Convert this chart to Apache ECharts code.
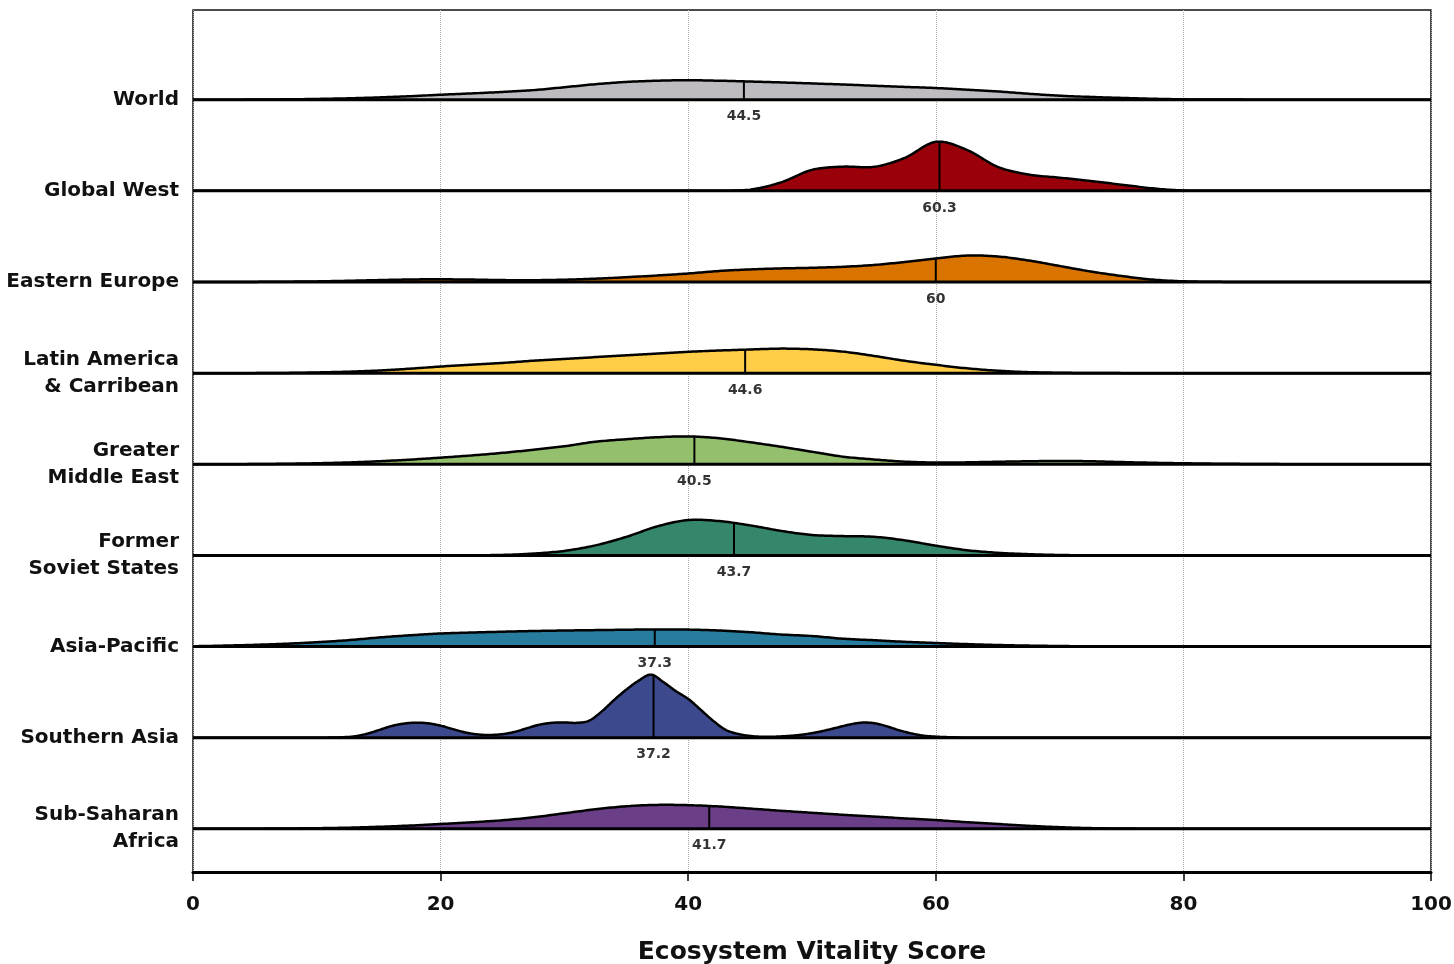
<!DOCTYPE html>
<html><head><meta charset="utf-8">
<script src="https://cdn.jsdelivr.net/npm/echarts@6/dist/echarts.min.js"></script>
<style>html,body{margin:0;padding:0;background:#fff}#c{width:1454px;height:964px}</style>
</head><body><div id="c"></div>
<script>
// Regions, top to bottom
const regionNames = ['World', 'Global West', 'Eastern Europe', 'Latin America\n& Carribean', 'Greater\nMiddle East', 'Former\nSoviet States', 'Asia-Pacific', 'Southern Asia', 'Sub-Saharan\nAfrica'];
const regionColors = ['#BEBCC1', '#9A000A', '#DA7400', '#FFCD48', '#94BF6C', '#35876B', '#287C9E', '#3C4A8D', '#6A3F87'];
const medianScores = [44.5, 60.3, 60, 44.6, 40.5, 43.7, 37.3, 37.2, 41.7];
const medianLabels = ['44.5', '60.3', '60', '44.6', '40.5', '43.7', '37.3', '37.2', '41.7'];
// density (relative height) at each median
const medianDensity = [18.3, 49, 23.4, 23.6, 27.8, 32.5, 17, 62.5, 22.7];

// Shared score grid (step 2.5)
const scoreGrid = [0,2.5,5,7.5,10,12.5,15,17.5,20,22.5,25,27.5,30,32.5,35,37.5,40,42.5,45,47.5,50,52.5,55,57.5,60,62.5,65,67.5,70,72.5,75,77.5,80,82.5,85,87.5,90,92.5,95,97.5,100];
const densWorld = [0,0,0.2,0.4,0.8,1.4,2.3,3.5,5,6.3,7.8,9.6,12.5,15.5,17.8,19,19.5,19,18.2,17.3,16.3,15.2,14,12.8,11.7,10,8.3,6,4,2.8,1.8,1,0.4,0.2,0.1,0,0,0,0,0,0];
const densGlobalWest = [0,0,0,0,0,0,0,0,0,0,0,0,0,0,0,0,0,0.1,1.2,8.5,21,24.2,24,33,49,41,24,16.3,13.2,9.8,6.2,2.5,0.3,0,0,0,0,0,0,0,0];
const densEasternEurope = [0,0,0.1,0.3,0.6,1.2,1.9,2.5,2.7,2.4,1.9,1.8,2.3,3.3,4.8,6.5,8.5,11,12.6,13.6,14.2,15.2,17,20,23.4,26.4,25.5,21.5,16,10.5,6,2.4,0.7,0.2,0,0,0,0,0,0,0];
const densLatinAmerica = [0,0,0,0.2,0.7,1.4,2.6,4.4,6.6,8.4,10.2,12.4,14.2,16,17.8,19.6,21.3,22.6,23.6,24.5,23.8,21.5,17.2,12.3,8.3,4.8,2.4,1,0.4,0.1,0,0,0,0,0,0,0,0,0,0,0];
const densMiddleEast = [0,0,0.2,0.5,1,1.8,3,4.6,6.6,8.8,11.4,14.5,18,22.5,25,27,27.8,26,22,17.5,12.5,7.6,4.8,2.6,1.7,1.9,2.5,3,3.3,3,2.2,1.5,1,0.6,0.35,0.15,0,0,0,0,0];
const densSovietStates = [0,0,0,0,0,0,0,0,0,0.1,0.5,1.8,4.5,10,18.5,29,35.3,34.3,30,24.5,20.4,19.3,18.6,15,9.7,5.2,2.6,1.2,0.4,0.1,0,0,0,0,0,0,0,0,0,0,0];
const densAsiaPacific = [0.3,0.9,1.7,2.8,4.3,6.3,9,11.2,13,14,14.8,15.5,16,16.4,16.8,17.1,16.9,16,14.3,12,10.5,7.8,6.3,4.7,3.5,2.4,1.5,0.9,0.5,0.2,0.1,0,0,0,0,0,0,0,0,0,0];
const densSubSaharan = [0,0,0.1,0.3,0.6,1.1,2,3.2,4.8,6.5,8.5,11.5,15.5,19.5,22.5,23.9,23.6,22.3,20.2,18,16,14,12.2,10.4,8.7,6.6,4.8,3,1.6,0.7,0.25,0.1,0,0,0,0,0,0,0,0,0];
// Southern Asia is narrow, so read on a finer grid
const southAsiaGrid = [0,10,11,12,13,14,15,16,17,18,19,20,21,22,23,24,25,26,27,28,29,30,31,32,33,34,35,36,37,38,39,40,41,42,43,44,45,46,47,48,49,50,51,52,53,54,55,56,57,58,59,60,61,62,63,100];
const densSouthernAsia = [0,0,0.1,0.4,1.2,3.7,7.5,11.5,14,15,14.3,12,8.5,5.2,3.2,2.7,3.5,5.8,9.5,13,14.8,15.2,14.8,17,26,37.5,48,57,63,55.5,46.5,38.7,28,17,8,3.8,1.7,0.9,1,1.6,2.7,4.5,7,10,13,15,14.5,11.5,7.5,4.3,2,1,0.5,0.2,0,0];

const xTicks = [0, 20, 40, 60, 80, 100];

const regionGrids = [scoreGrid, scoreGrid, scoreGrid, scoreGrid, scoreGrid, scoreGrid, scoreGrid, southAsiaGrid, scoreGrid];
const regionDens = [densWorld, densGlobalWest, densEasternEurope, densLatinAmerica, densMiddleEast, densSovietStates, densAsiaPacific, densSouthernAsia, densSubSaharan];

const ROW = 91.1;
const N = regionNames.length;
const FONT = 'DejaVu Sans';

// Catmull-Rom rendering of the read points (pixel space), never dipping below the baseline
function splinePixels(pts, baseY) {
  const out = [pts[0]];
  const n = pts.length;
  for (let i = 0; i < n - 1; i++) {
    const p0 = pts[Math.max(i - 1, 0)], p1 = pts[i], p2 = pts[i + 1], p3 = pts[Math.min(i + 2, n - 1)];
    const c1 = [p1[0] + (p2[0] - p0[0]) / 6, Math.min(baseY, p1[1] + (p2[1] - p0[1]) / 6)];
    const c2 = [p2[0] - (p3[0] - p1[0]) / 6, Math.min(baseY, p2[1] - (p3[1] - p1[1]) / 6)];
    const steps = 14;
    for (let s = 1; s <= steps; s++) {
      const t = s / steps, u = 1 - t;
      const a = u * u * u, b = 3 * u * u * t, c = 3 * u * t * t, d = t * t * t;
      out.push([a * p1[0] + b * c1[0] + c * c2[0] + d * p2[0], Math.min(baseY, a * p1[1] + b * c1[1] + c * c2[1] + d * p2[1])]);
    }
  }
  return out;
}

const series = [];
regionNames.forEach((name, r) => {
  const base = (N - 1 - r) * ROW;
  const xs = regionGrids[r], ds = regionDens[r];
  const pts = xs.map((x, k) => [x, base + ds[k]]);
  series.push({
    type: 'custom', name: name, coordinateSystem: 'cartesian2d', silent: true, z: 2,
    data: pts,
    renderItem: (params, api) => {
      if (params.dataIndex !== 0) return null;
      const pix = pts.map(p => api.coord(p));
      const baseY = api.coord([0, base])[1];
      const curve = splinePixels(pix, baseY);
      const poly = curve.concat([[curve[curve.length - 1][0], baseY], [curve[0][0], baseY]]);
      return {
        type: 'group',
        children: [
          { type: 'polygon', shape: { points: poly }, style: { fill: regionColors[r], stroke: null } },
          { type: 'polyline', shape: { points: curve }, style: { fill: null, stroke: '#000', lineWidth: 2.5, lineJoin: 'round' } }
        ]
      };
    }
  });
  series.push({
    type: 'line', symbol: 'none', silent: true, z: 3,
    data: [[medianScores[r], base], [medianScores[r], base + medianDensity[r]]],
    lineStyle: { color: '#000', width: 2 }
  });
  series.push({
    type: 'line', symbol: 'none', silent: true, z: 4,
    data: [[0, base], [100, base]],
    lineStyle: { color: '#000', width: 3 }
  });
  series.push({
    type: 'scatter', symbolSize: 0, silent: true, z: 5,
    data: [[medianScores[r], base]],
    label: { show: true, position: 'bottom', distance: 10, formatter: medianLabels[r],
      fontFamily: FONT, fontWeight: 'bold', fontSize: 14, color: '#000' }
  });
});

const labelValues = regionNames.map((n, r) => (N - 1 - r) * ROW);

const chart = echarts.init(document.getElementById('c'), null, { renderer: 'canvas' });
chart.setOption({
  animation: false,
  backgroundColor: '#fff',
  textStyle: { fontFamily: FONT },
  grid: { left: 193, right: 23, top: 10, bottom: 92, show: true, borderColor: '#111', borderWidth: 1.5,
    containLabel: false, outerBoundsMode: 'none' },
  xAxis: {
    type: 'value', min: 0, max: 100, interval: 20,
    name: 'Ecosystem Vitality Score', nameLocation: 'middle', nameGap: 68,
    nameTextStyle: { fontFamily: FONT, fontWeight: 'bold', fontSize: 25, color: '#111' },
    axisLine: { show: true, onZero: false, lineStyle: { color: '#000', width: 3 } },
    axisTick: { show: true, length: 9, lineStyle: { color: '#000', width: 1.5 } },
    axisLabel: { margin: 23, fontFamily: FONT, fontWeight: 'bold', fontSize: 20, color: '#111',
      formatter: v => xTicks.includes(v) ? String(v) : '' },
    splitLine: { show: true, lineStyle: { color: '#aaa', width: 1, type: 'dotted' } }
  },
  yAxis: {
    type: 'value', min: -43.2, max: (N - 1) * ROW + 89.7,
    axisLine: { show: false }, axisTick: { show: false }, splitLine: { show: false },
    axisLabel: {
      show: true, customValues: labelValues, margin: 14,
      fontFamily: FONT, fontWeight: 'bold', fontSize: 20, color: '#111', lineHeight: 27, align: 'right',
      formatter: v => { const i = N - 1 - Math.round(v / ROW); return regionNames[i] || ''; }
    }
  },
  series: series
});
</script></body></html>
